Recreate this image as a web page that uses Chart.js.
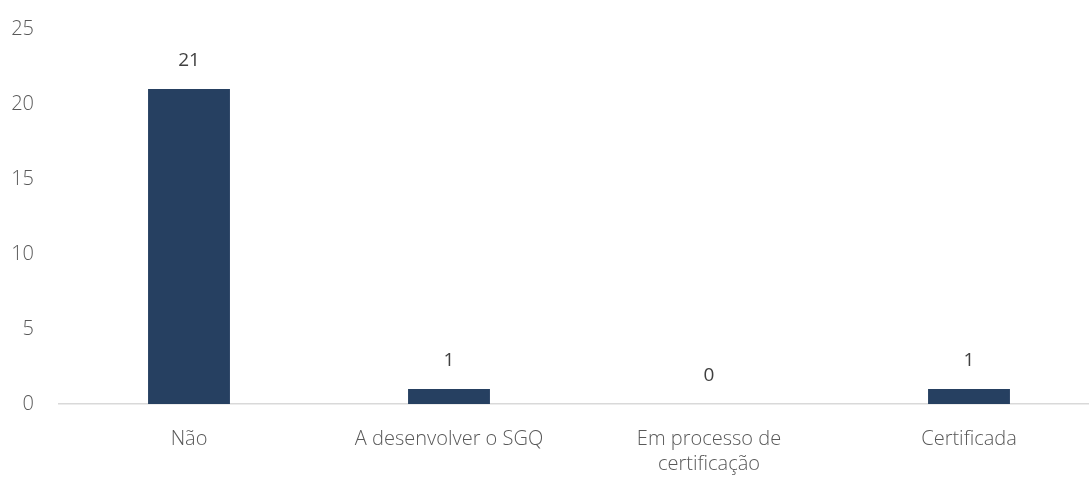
<!DOCTYPE html>
<html>
<head>
<meta charset="utf-8">
<script src="https://cdn.jsdelivr.net/npm/chart.js@4/dist/chart.umd.min.js"></script>
<style>
  html, body { margin: 0; padding: 0; background: #fff; overflow: hidden; }
  #wrap { width: 1099px; height: 477px; }
</style>
</head>
<body>
<div id="wrap"><canvas id="chart"></canvas></div>
<script>
// === Données ===
const categories = [['Não'], ['A desenvolver o SGQ'], ['Em processo de', 'certificação'], ['Certificada']];
const values = [21, 1, 0, 1];
const yTicks = [0, 5, 10, 15, 20, 25];

const barColor = '#264061';
const textColor = '#595959';

// étiquettes de valeur au-dessus des barres
const valueLabels = {
    id: 'valueLabels',
    afterDatasetsDraw(chart) {
        const ctx = chart.ctx;
        const meta = chart.getDatasetMeta(0);
        ctx.save();
        ctx.font = '19px "Open Sans"';
        ctx.fillStyle = '#404040';
        ctx.textAlign = 'center';
        ctx.textBaseline = 'middle';
        meta.data.forEach((bar, i) => {
            ctx.fillText(values[i], bar.x, bar.y - 28);
        });
        ctx.restore();
    }
};

new Chart(document.getElementById('chart'), {
    type: 'bar',
    data: {
        labels: categories,
        datasets: [{
            data: values,
            backgroundColor: barColor,
            barPercentage: 0.315,
            categoryPercentage: 1
        }]
    },
    options: {
        responsive: true,
        maintainAspectRatio: false,
        animation: false,
        layout: { padding: { top: 6, right: 0, left: 0, bottom: 0 } },
        plugins: { legend: { display: false }, tooltip: { enabled: false } },
        scales: {
            x: {
                afterFit: axis => { axis.height = 73; },
                grid: { display: false },
                border: { color: '#d9d9d9', width: 1.5 },
                ticks: { color: textColor, font: { family: 'Open Sans', size: 20, weight: 300, lineHeight: 1.25 }, padding: 15, maxRotation: 0 }
            },
            y: {
                min: 0,
                max: 25,
                afterBuildTicks: axis => { axis.ticks = yTicks.map(v => ({ value: v })); },
                afterFit: axis => { axis.width = 59; },
                grid: { display: false },
                border: { display: false },
                ticks: { color: textColor, font: { family: 'Open Sans', size: 20, weight: 300 }, padding: 17 }
            }
        }
    },
    plugins: [valueLabels]
});
</script>
</body>
</html>
